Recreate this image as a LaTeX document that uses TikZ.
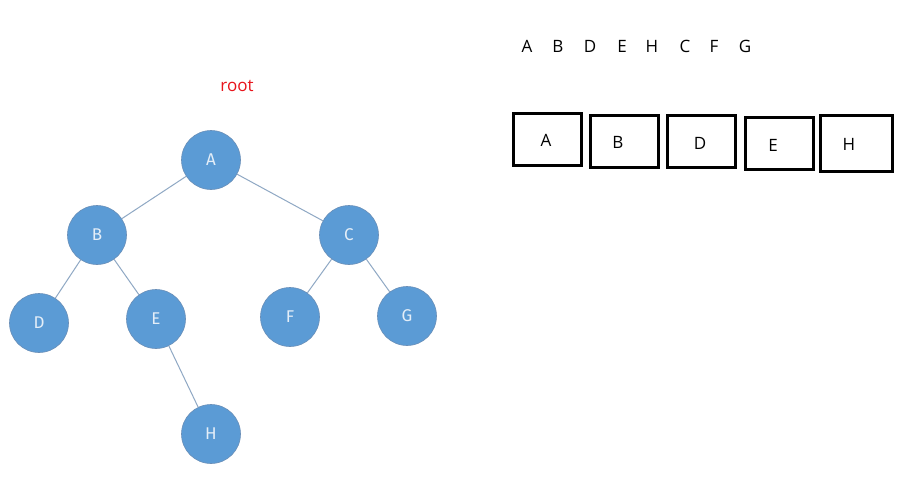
\documentclass[tikz,border=0pt]{standalone}
\usepackage{fontspec}
\setmainfont{Open Sans}
\newfontfamily\treefont{Fira Sans}
\definecolor{nodeblue}{HTML}{5B9BD5}
\definecolor{nodeedge}{HTML}{6A8FB8}
\definecolor{linkcol}{HTML}{8FA8C4}
\definecolor{labelcol}{HTML}{E4EEF8}
\definecolor{rootred}{HTML}{E8141B}
\begin{document}
\begin{tikzpicture}[x=1pt,y=-1pt,
  tnode/.style={circle,fill=nodeblue,draw=nodeedge,line width=0.6pt,minimum size=59pt,inner sep=0pt,
    font=\treefont\fontsize{17}{17}\selectfont,text=labelcol},
  link/.style={draw=linkcol,line width=1pt},
  seqtext/.style={font=\fontsize{17}{17}\selectfont,inner sep=0pt,anchor=center},
  cell/.style={draw=black,line width=3.8pt,inner sep=0pt,minimum width=68pt,minimum height=52pt}]
\useasboundingbox (0,0) rectangle (921,493);
\fill[white] (0,0) rectangle (921,493);
% root label
\node[font=\fontsize{17}{17}\selectfont,text=rootred] (rootlbl) at (237,86) {root};
% tree
\node[tnode] (A) at (211,160) {A};
\node[tnode] (B) at (97,235) {B};
\node[tnode] (C) at (349,235) {C};
\node[tnode] (D) at (39,323) {D};
\node[tnode] (E) at (156,319) {E};
\node[tnode] (F) at (290,317) {F};
\node[tnode] (G) at (407,316) {G};
\node[tnode] (H) at (211,434) {H};
\draw[link] (A) -- (B);
\draw[link] (A) -- (C);
\draw[link] (B) -- (D);
\draw[link] (B) -- (E);
\draw[link] (C) -- (F);
\draw[link] (C) -- (G);
\draw[link] (E) -- (H);
% sequence
\node[seqtext] (s1) at (527,46) {A};
\node[seqtext] (s2) at (558,46) {B};
\node[seqtext] (s3) at (590,46) {D};
\node[seqtext] (s4) at (622,46) {E};
\node[seqtext] (s5) at (652,46) {H};
\node[seqtext] (s6) at (685,46) {C};
\node[seqtext] (s7) at (714,46) {F};
\node[seqtext] (s8) at (745,46) {G};
% boxes
\node[cell] (bA) at (547.5,139.5) {};
\node[seqtext] (tA) at (546,140) {A};
\node[cell] (bB) at (624.5,141.5) {};
\node[seqtext] (tB) at (618,142) {B};
\node[cell] (bD) at (701.5,141.5) {};
\node[seqtext] (tD) at (700,143) {D};
\node[cell] (bE) at (779.5,143.5) {};
\node[seqtext] (tE) at (773,145) {E};
\node[cell,minimum width=72pt,minimum height=56pt] (bH) at (856.5,143.5) {};
\node[seqtext] (tH) at (849,144) {H};
\end{tikzpicture}
\end{document}
